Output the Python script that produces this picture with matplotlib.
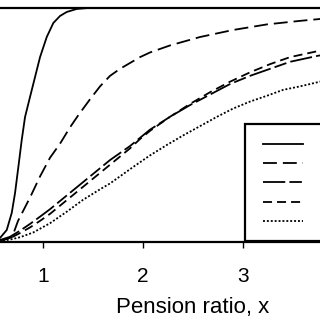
import matplotlib
matplotlib.use("Agg")
import matplotlib.pyplot as plt

plt.rcParams['font.family'] = ['Liberation Sans', 'DejaVu Sans']
plt.rcParams['lines.scale_dashes'] = False

# pension ratio values (x) and the five curves
x_solid = [0.45, 0.57, 0.637, 0.687, 0.72, 0.753, 0.787, 0.82, 0.87, 0.92, 0.97,
           1.037, 1.103, 1.17, 1.237, 1.337, 1.45, 1.6, 4.0]
y_solid = [0.0, 0.017, 0.051, 0.124, 0.209, 0.32, 0.436, 0.534, 0.62, 0.705, 0.79,
           0.876, 0.936, 0.966, 0.983, 0.996, 1.0, 1.0, 1.0]

x_dash = [0.45, 0.57, 0.69, 0.75, 0.87, 0.97, 1.07, 1.17, 1.27, 1.35, 1.47, 1.57,
          1.67, 1.77, 1.97, 2.07, 2.27, 2.57, 2.9, 3.24, 3.57, 3.77, 4.0]
y_dash = [0.0, 0.004, 0.02, 0.09, 0.19, 0.28, 0.36, 0.42, 0.49, 0.54, 0.61, 0.665,
          0.71, 0.74, 0.79, 0.81, 0.84, 0.876, 0.906, 0.93, 0.945, 0.953, 0.96]

x_mid = [0.45, 0.57, 0.67, 0.77, 0.87, 0.97, 1.07, 1.17, 1.27, 1.37, 1.47, 1.57, 1.67,
         1.77, 1.87, 1.97, 2.07, 2.27, 2.47, 2.67, 2.87, 3.07, 3.27, 3.47, 3.74, 4.0]
y_longshort = [0.0, 0.008, 0.022, 0.048, 0.077, 0.108, 0.14, 0.175, 0.21, 0.245, 0.28,
               0.315, 0.35, 0.38, 0.41, 0.445, 0.48, 0.535, 0.585, 0.63, 0.675, 0.71,
               0.74, 0.77, 0.795, 0.815]
y_short = [0.0, 0.006, 0.016, 0.038, 0.062, 0.09, 0.12, 0.155, 0.19, 0.225, 0.26,
           0.295, 0.33, 0.365, 0.40, 0.44, 0.475, 0.535, 0.59, 0.64, 0.685, 0.725,
           0.76, 0.79, 0.815, 0.835]

x_dot = [0.45, 0.57, 0.67, 0.77, 0.9, 1.07, 1.24, 1.4, 1.57, 1.67, 1.9, 2.07, 2.24,
         2.4, 2.57, 2.74, 2.9, 3.07, 3.24, 3.4, 3.57, 3.77, 4.0]
y_dot = [0.0, 0.004, 0.01, 0.02, 0.04, 0.08, 0.13, 0.18, 0.225, 0.25, 0.32, 0.37,
         0.415, 0.455, 0.495, 0.535, 0.57, 0.60, 0.625, 0.65, 0.665, 0.685, 0.70]

x_ticks = [1, 2, 3]

fig = plt.figure(figsize=(3.2, 3.2), dpi=100)
# axes spill past the left and right edges, as in the cropped original
ax = fig.add_axes([-0.178, 0.244, 1.5625, 0.731])

lw = 1.3
l1, = ax.plot(x_solid, y_solid, color='black', lw=lw, ls='-')
l2, = ax.plot(x_dash, y_dash, color='black', lw=lw, ls=(0, (10, 4.3)))
l3, = ax.plot(x_mid, y_longshort, color='black', lw=lw, ls=(0, (16, 3, 9, 3)))
l4, = ax.plot(x_mid, y_short, color='black', lw=lw, ls=(0, (6.5, 3.6)))
l5, = ax.plot(x_dot, y_dot, color='black', lw=lw, ls=(0, (1.4, 1.4)))

ax.set_xlim(0, 5)
ax.set_ylim(0, 1)
ax.set_xticks(x_ticks)
ax.set_yticks([])
ax.tick_params(axis='x', direction='out', length=4, width=1, labelsize=15, pad=14)
for side in ['top', 'bottom', 'left', 'right']:
    ax.spines[side].set_linewidth(1.6)
ax.set_xlabel('Pension ratio, x', fontsize=16, labelpad=8)

# legend labels are cut off in the original; tiny font keeps the row layout tight
leg = fig.legend([l1, l2, l3, l4, l5], [' '] * 5,
                 loc='lower left', bbox_to_anchor=(245 / 320, 79 / 320),
                 frameon=True, fancybox=False, fontsize=2,
                 handlelength=14.4, labelspacing=5.5, borderpad=6.5,
                 borderaxespad=0, handletextpad=6)
leg.get_frame().set_edgecolor('black')
leg.get_frame().set_linewidth(1.6)
leg.get_frame().set_alpha(1)

fig.savefig('out.png', dpi=100)
